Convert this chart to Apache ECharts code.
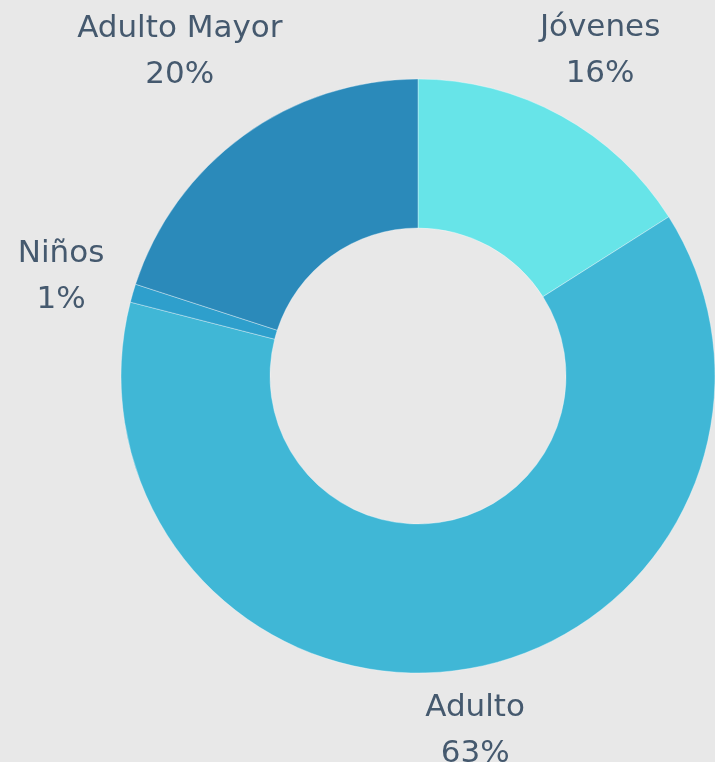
<!DOCTYPE html>
<html>
<head>
<meta charset="utf-8">
<script src="https://cdn.jsdelivr.net/npm/echarts@6/dist/echarts.min.js"></script>
<style>
html,body{margin:0;padding:0;background:#e8e8e8;}
#chart{width:715px;height:762px;}
</style>
</head>
<body>
<div id="chart"></div>
<script>
var categories = ['Jóvenes', 'Adulto', 'Niños', 'Adulto Mayor'];
var values = [16, 63, 1, 20];
var colors = ['#67e4e8', '#40b7d6', '#2e9fcc', '#2b8aba'];

var chart = echarts.init(document.getElementById('chart'));
var pieData = categories.map(function (c, i) {
  return { name: c, value: values[i], itemStyle: { color: colors[i] } };
});
var labelData = categories.map(function (c, i) {
  return { name: c, value: values[i] };
});
var labelFix = [[0, 6], [-2, -18], [6, 6], [-16, -18]];
chart.setOption({
  backgroundColor: 'transparent',
  animation: false,
  series: [
    {
      type: 'pie',
      center: [418, 376],
      radius: [148, 297],
      startAngle: 90,
      clockwise: true,
      silent: true,
      label: { show: false },
      labelLine: { show: false },
      itemStyle: { borderColor: 'rgba(255,255,255,0.35)', borderWidth: 1 },
      data: pieData
    },
    {
      type: 'pie',
      center: [418, 376],
      radius: [340, 410],
      startAngle: 90,
      clockwise: true,
      silent: true,
      itemStyle: { color: 'rgba(0,0,0,0)' },
      label: {
        show: true,
        position: 'inside',
        formatter: function (p) { return p.name + '\n' + p.value + '%'; },
        color: '#45596e',
        fontFamily: 'DejaVu Sans',
        fontSize: 31,
        lineHeight: 46,
        align: 'center'
      },
      labelLayout: function (p) {
        var f = labelFix[p.dataIndex];
        return { dx: f[0], dy: f[1] };
      },
      labelLine: { show: false },
      data: labelData
    }
  ]
});
</script>
</body>
</html>
